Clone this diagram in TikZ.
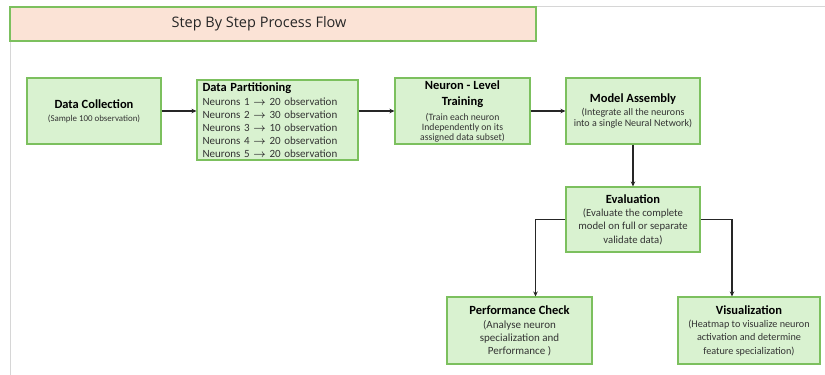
\documentclass[tikz,border=0pt]{standalone}
\usepackage{amsmath}
\usepackage{fontspec}
\setmainfont{Carlito}
\newfontfamily\titlefont{Open Sans}
\usepackage{tikz}
\usetikzlibrary{arrows.meta}

\definecolor{boxfill}{HTML}{D9F2D0}
\definecolor{boxline}{HTML}{7CC05E}
\definecolor{headfill}{HTML}{FBE3D6}
\definecolor{frameline}{HTML}{D6D6D6}
\definecolor{arrowcol}{HTML}{262626}
\definecolor{bodytext}{HTML}{333333}
\newcommand{\hd}[1]{{\fontsize{12.5}{15}\selectfont\bfseries\color{black} #1}}

\begin{document}
\begin{tikzpicture}[x=1pt,y=-1pt,
	stepbox/.style={draw=boxline,line width=1.1pt,fill=boxfill,inner sep=2pt,align=center,text=bodytext},
	flow/.style={draw=arrowcol,line width=1.2pt,-{Stealth[length=5pt,width=4.5pt]}}]
	\useasboundingbox (0,0) rectangle (825,375);
	%faint frame of the page
	\draw[frameline,line width=0.8pt] (825,6)--(10,6)--(10,375);

	\node[draw=boxline,line width=1.1pt,fill=headfill,minimum width=526,minimum height=34] (head) at (273,24) {};
	\node[font=\titlefont\fontsize{14.5}{16}\selectfont,text=black!85] (headtxt) at (259,24) {Step By Step Process Flow};

	\node[stepbox,minimum width=134,minimum height=66,font=\fontsize{8.9}{11}\selectfont] (dc) at (94,111) {\hd{Data Collection}\\[2.3pt](Sample 100 observation)};
	\node[stepbox,minimum height=80,text width=150,inner xsep=5.5,inner ysep=1,align=left,font=\fontsize{11}{13.1}\selectfont] (dp) at (277.5,120) {\hd{Data Partitioning}\\[1pt]
		Neurons 1 $\boldsymbol{\rightarrow}$ 20 observation\\
		Neurons 2 $\boldsymbol{\rightarrow}$ 30 observation\\
		Neurons 3 $\boldsymbol{\rightarrow}$ 10 observation\\
		Neurons 4 $\boldsymbol{\rightarrow}$ 20 observation\\
		Neurons 5 $\boldsymbol{\rightarrow}$ 20 observation};
	\node[stepbox,minimum width=135,minimum height=66,font=\fontsize{9.7}{10}\selectfont] (nt) at (462.5,111) {\hd{Neuron - Level}\\[6pt] \hd{Training}\\[5pt] (Train each neuron\\ Independently on its\\ assigned data subset)};
	\node[stepbox,minimum width=134,minimum height=66,font=\fontsize{10}{11}\selectfont] (ma) at (633,111) {\hd{Model Assembly}\\[2pt] (Integrate all the neurons\\ into a single Neural Network)};
	\node[stepbox,minimum width=134,minimum height=65,font=\fontsize{10.7}{13.3}\selectfont] (ev) at (633,219.5) {\hd{Evaluation}\\[0pt] (Evaluate the complete\\ model on full or separate\\ validate data)};
	\node[stepbox,minimum width=145,minimum height=67,font=\fontsize{11}{13}\selectfont] (pc) at (519.5,330.5) {\hd{Performance Check}\\[1pt] (Analyse neuron\\ specialization and\\ Performance )};
	\node[stepbox,minimum width=142,minimum height=67,font=\fontsize{10.2}{13.3}\selectfont] (vi) at (749,330.5) {\hd{Visualization}\\[0pt] (Heatmap to visualize neuron\\ activation and determine\\ feature specialization)};

	\draw[flow] (dc.east) -- (dc.east -| dp.west);
	\draw[flow] (dp.east |- nt.east) -- (nt.west);
	\draw[flow] (nt.east) -- (ma.west);
	\draw[flow] (ma.south) -- (ev.north);
	\draw[flow] (ev.west) -| ([xshift=16]pc.north);
	\draw[flow] (ev.east) -| ([xshift=-17]vi.north);
\end{tikzpicture}
\end{document}
